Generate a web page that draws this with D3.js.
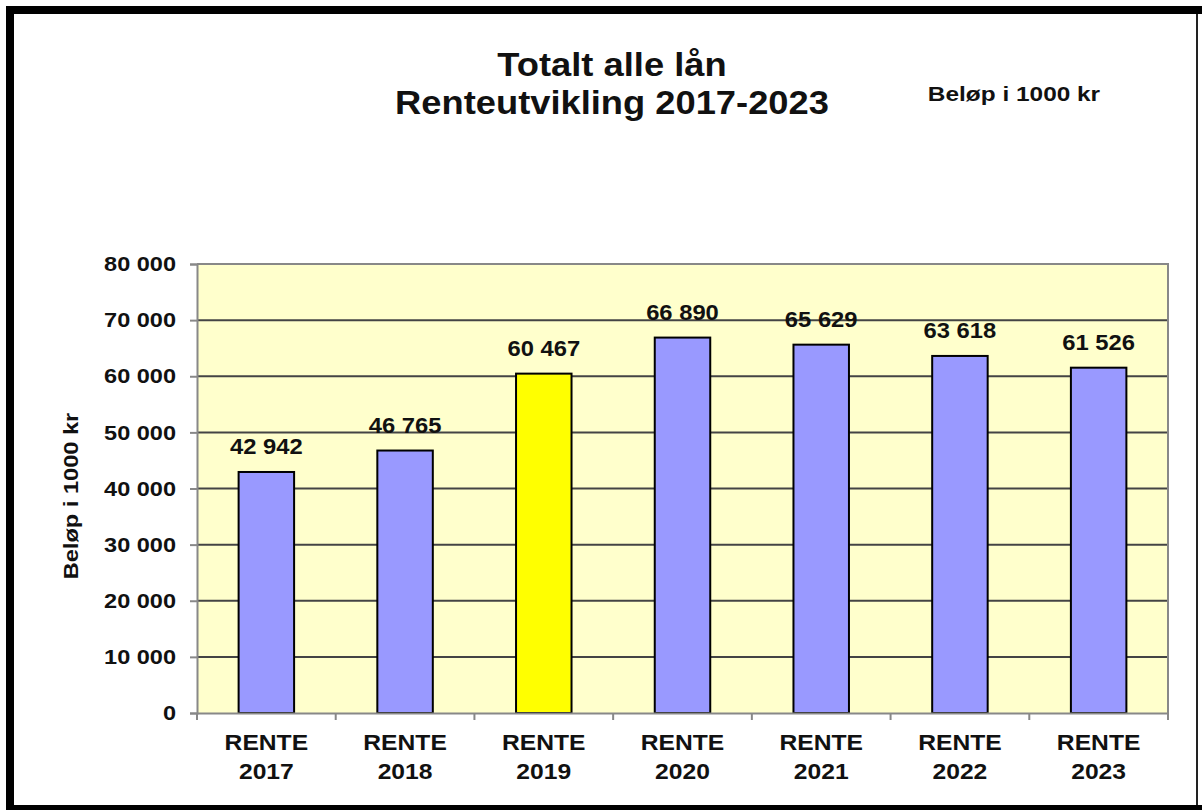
<!DOCTYPE html>
<html>
<head>
<meta charset="utf-8">
<script src="https://cdn.jsdelivr.net/npm/d3@7"></script>
<style>
  body { margin: 0; background: #fff; }
  svg { display: block; font-family: "Liberation Sans", Arial, sans-serif; font-weight: bold; }
</style>
</head>
<body>
<div id="chart"></div>
<script>
// Data
var categories = ["RENTE 2017", "RENTE 2018", "RENTE 2019", "RENTE 2020", "RENTE 2021", "RENTE 2022", "RENTE 2023"];
var values = [42942, 46765, 60467, 66890, 65629, 63618, 61526];
var highlighted = ["RENTE 2019"];
var yTicks = [0, 10000, 20000, 30000, 40000, 50000, 60000, 70000, 80000];
var titleLines = ["Totalt alle lån", "Renteutvikling 2017-2023"];
var unitNote = "Beløp i 1000 kr";
var yTitle = "Beløp i 1000 kr";

var W = 1202, H = 810;
var plot = {left: 197, top: 264, right: 1168, bottom: 713};

// number format with space as thousands separator
var fmt = d3.formatLocale({decimal: ",", thousands: " ", grouping: [3], currency: ["", " kr"]}).format(",d");

// The original picture is a bit wider than normal Arial, stretch text horizontally
function stretch(sel, factor) {
    sel.each(function() {
        var len = this.getComputedTextLength();
        d3.select(this)
            .attr("textLength", len * factor)
            .attr("lengthAdjust", "spacingAndGlyphs");
    });
}

var svg = d3.select("#chart")
    .append("svg")
        .attr("width", W)
        .attr("height", H);

// Outer frame
svg.append("rect").attr("x", 6).attr("y", 6).attr("width", W - 6).attr("height", H - 6).attr("fill", "#000");
svg.append("rect").attr("x", 14).attr("y", 14).attr("width", W - 14).attr("height", 791).attr("fill", "#fff");
svg.append("rect").attr("x", 1196).attr("y", 14).attr("width", 2).attr("height", 791).attr("fill", "#222");

// Scales
var x = d3.scaleBand()
        .domain(categories)
        .range([plot.left, plot.right])
        .paddingInner(0.6)
        .paddingOuter(0.3);
var xOuter = d3.scaleBand()
        .domain(categories)
        .range([plot.left, plot.right]);
var y = d3.scaleLinear()
        .domain([0, 80000])
        .range([plot.bottom, plot.top]);

// Plot background
svg.append("rect")
    .attr("x", plot.left)
    .attr("y", plot.top)
    .attr("width", plot.right - plot.left)
    .attr("height", plot.bottom - plot.top)
    .attr("fill", "#FFFFCC");

// Gridlines
svg.append("g")
    .selectAll("line")
    .data(yTicks.filter(d => d > 0 && d < 80000))
    .join("line")
        .attr("x1", plot.left)
        .attr("x2", plot.right)
        .attr("y1", d => y(d))
        .attr("y2", d => y(d))
        .attr("stroke", "#444")
        .attr("stroke-width", 2);

// Plot border (top and right)
svg.append("path")
    .attr("d", "M" + plot.left + "," + plot.top + "H" + plot.right + "V" + plot.bottom)
    .attr("fill", "none")
    .attr("stroke", "#888")
    .attr("stroke-width", 2);

// Bars
svg.append("g")
    .selectAll("rect")
    .data(categories)
    .join("rect")
        .attr("x", d => x(d))
        .attr("width", x.bandwidth())
        .attr("y", (d, i) => y(values[i]))
        .attr("height", (d, i) => y(0) - y(values[i]))
        .attr("fill", d => highlighted.includes(d) ? "#FFFF00" : "#9999FF")
        .attr("stroke", "#000")
        .attr("stroke-width", 2);

// Value labels
svg.append("g")
    .selectAll("text")
    .data(categories)
    .join("text")
        .attr("x", d => x(d) + x.bandwidth() / 2)
        .attr("y", (d, i) => y(values[i]) - 18)
        .attr("text-anchor", "middle")
        .attr("font-size", "22px")
        .attr("fill", "#111")
        .text((d, i) => fmt(values[i]))
        .call(stretch, 1.08);

// Y axis
var yAxis = svg.append("g")
    .attr("transform", "translate(" + plot.left + ",0)")
    .call(d3.axisLeft(y).tickValues(yTicks).tickSize(7).tickPadding(14).tickFormat(fmt));
yAxis.select(".domain").attr("stroke", "#888").attr("stroke-width", 2);
yAxis.selectAll(".tick line").attr("stroke", "#888").attr("stroke-width", 2);
yAxis.selectAll(".tick text")
    .attr("font-size", "21px")
    .attr("font-family", "Liberation Sans, Arial, sans-serif")
    .attr("font-weight", "bold")
    .attr("fill", "#111")
    .call(stretch, 1.12);

// X axis
var xAxis = svg.append("g")
    .attr("transform", "translate(0," + plot.bottom + ")")
    .call(d3.axisBottom(xOuter).tickSize(0).tickFormat(""));
xAxis.select(".domain").attr("stroke", "#888").attr("stroke-width", 2);
svg.append("g")
    .selectAll("line")
    .data(categories.concat(["end"]))
    .join("line")
        .attr("x1", (d, i) => plot.left + i * xOuter.step())
        .attr("x2", (d, i) => plot.left + i * xOuter.step())
        .attr("y1", plot.bottom)
        .attr("y2", plot.bottom + 7)
        .attr("stroke", "#888")
        .attr("stroke-width", 2);

// Category labels (two lines)
var catLabels = svg.append("g")
    .selectAll("text")
    .data(categories)
    .join("text")
        .attr("text-anchor", "middle")
        .attr("font-size", "22px")
        .attr("fill", "#111");
catLabels.each(function(d) {
    var parts = d.split(" ");
    var cx = xOuter(d) + xOuter.bandwidth() / 2;
    d3.select(this).selectAll("tspan")
        .data(parts)
        .join("tspan")
            .attr("x", cx)
            .attr("y", (p, i) => 750 + i * 29)
            .text(p => p)
            .call(stretch, 1.12);
});

// Y axis title
svg.append("text")
    .attr("transform", "translate(78,496) rotate(-90)")
    .attr("text-anchor", "middle")
    .attr("font-size", "20px")
    .attr("fill", "#111")
    .text(yTitle)
    .call(stretch, 1.18);

// Title
svg.append("g")
    .selectAll("text")
    .data(titleLines)
    .join("text")
        .attr("x", 612)
        .attr("y", (d, i) => 76 + i * 38)
        .attr("text-anchor", "middle")
        .attr("font-size", "33px")
        .attr("fill", "#111")
        .text(d => d)
        .call(stretch, 1.1);

// Unit note
svg.append("text")
    .attr("x", 1014)
    .attr("y", 101)
    .attr("text-anchor", "middle")
    .attr("font-size", "20px")
    .attr("fill", "#111")
    .text(unitNote)
    .call(stretch, 1.22);
</script>
</body>
</html>
